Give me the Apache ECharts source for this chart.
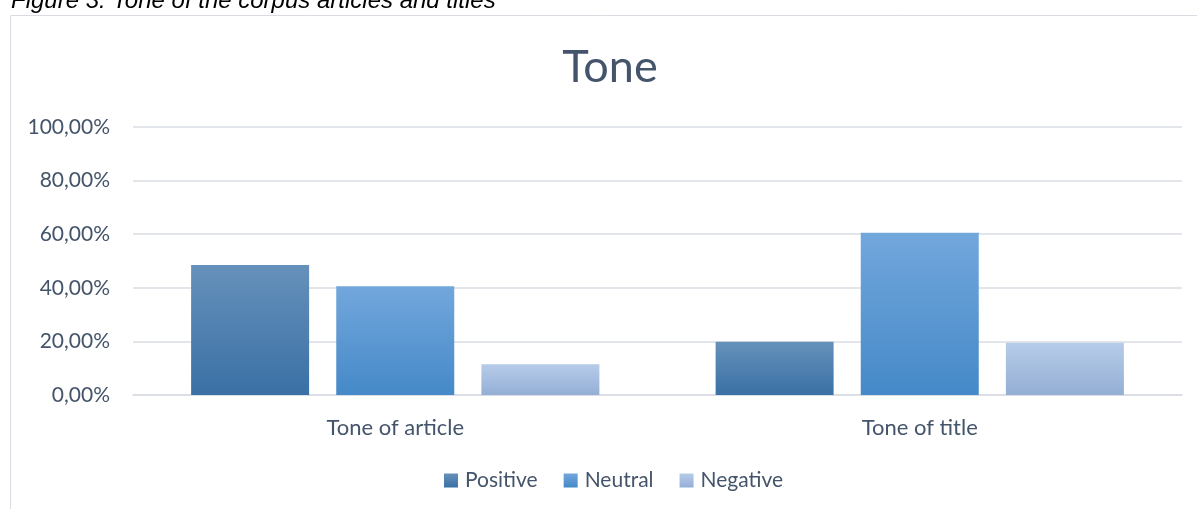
<!DOCTYPE html>
<html>
<head>
<meta charset="utf-8">
<script src="https://cdn.jsdelivr.net/npm/echarts@6/dist/echarts.min.js"></script>
<style>
  html, body { margin: 0; padding: 0; background: #fff; }
  #chart { width: 1197px; height: 509px; }
</style>
</head>
<body>
<div id="chart"></div>
<script>
    // data
    var categories = ['Tone of article', 'Tone of title'];
    var seriesNames = ['Positive', 'Neutral', 'Negative'];
    var positive = [48.5, 19.9];
    var neutral = [40.6, 60.5];
    var negative = [11.5, 19.5];
    var yTicks = [0, 20, 40, 60, 80, 100];

    var textColor = '#44546A';
    var font = 'Lato, "Open Sans", sans-serif';

    function grad(top, bottom) {
        return new echarts.graphic.LinearGradient(0, 0, 0, 1, [
            { offset: 0, color: top },
            { offset: 1, color: bottom }
        ]);
    }

    var chart = echarts.init(document.getElementById('chart'));

    var option = {
        animation: false,
        backgroundColor: '#fff',
        title: {
            text: 'Tone',
            left: 605,
            textAlign: 'center',
            top: 40,
            textStyle: { color: textColor, fontSize: 45, fontWeight: 'normal', fontFamily: font }
        },
        legend: {
            bottom: 13,
            left: 439,
            itemWidth: 14,
            itemHeight: 14,
            itemGap: 26,
            icon: 'rect',
            data: seriesNames,
            textStyle: { color: textColor, fontSize: 21, fontFamily: font, padding: [0, 0, 0, 2] }
        },
        grid: { left: 133, right: 15, top: 127, bottom: 114, containLabel: false },
        xAxis: {
            type: 'category',
            data: categories,
            axisTick: { show: false },
            axisLine: { lineStyle: { color: '#D9DDE3', width: 1.5 } },
            axisLabel: { color: textColor, fontSize: 22, fontFamily: font, margin: 22 }
        },
        yAxis: {
            type: 'value',
            min: yTicks[0],
            max: yTicks[yTicks.length - 1],
            interval: 20,
            axisLine: { show: false },
            axisTick: { show: false },
            splitLine: { lineStyle: { color: '#D9DDE3', width: 1.5 } },
            axisLabel: {
                color: textColor, fontSize: 21, fontFamily: font, margin: 23,
                formatter: function (v) { return v.toFixed(2).replace('.', ',') + '%'; }
            }
        },
        graphic: [
            {
                type: 'rect',
                shape: { x: 10.5, y: 15.5, width: 1200, height: 520 },
                style: { fill: 'none', stroke: '#D9DCE2', lineWidth: 1 },
                z: -10
            },
            {
                type: 'text',
                left: 11,
                top: -11,
                style: {
                    text: 'Figure 3. Tone of the corpus articles and titles',
                    fill: '#000',
                    font: 'italic 24px "Liberation Sans", Arial, sans-serif'
                }
            }
        ],
        series: [
            {
                name: seriesNames[0], type: 'bar', data: positive,
                barWidth: 118, barGap: '23%',
                itemStyle: { color: grad('#6691BB', '#3A70A5') }
            },
            {
                name: seriesNames[1], type: 'bar', data: neutral,
                barWidth: 118, barGap: '23%',
                itemStyle: { color: grad('#72A7DC', '#4589C8') }
            },
            {
                name: seriesNames[2], type: 'bar', data: negative,
                barWidth: 118, barGap: '23%',
                itemStyle: { color: grad('#B6CCE9', '#94AED5') }
            }
        ]
    };

    chart.setOption(option);
</script>
</body>
</html>
